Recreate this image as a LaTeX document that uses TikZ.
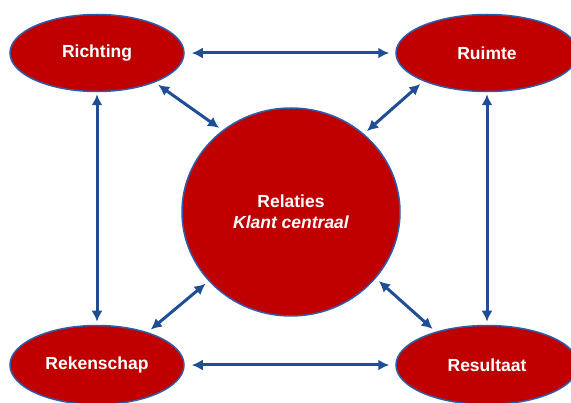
\documentclass[tikz,border=0pt]{standalone}
\usepackage{fontspec}
\setmainfont{Liberation Sans}
\usepackage{tikz}
\usetikzlibrary{shapes.geometric, arrows.meta}
\definecolor{kred}{RGB}{192,0,0}
\definecolor{kedge}{RGB}{46,93,170}
\definecolor{karrow}{RGB}{31,78,150}

\begin{document}
\begin{tikzpicture}[
  x=1pt, y=-1pt,
  font=\fontsize{17.5}{21}\selectfont\bfseries,
  pijler/.style={ellipse, draw=kedge, line width=1.5pt, fill=kred, text=white,
                 inner sep=0pt, minimum width=174pt, minimum height=77pt},
  kern/.style={ellipse, draw=kedge, line width=1.5pt, fill=kred, text=white, align=center,
               inner sep=0pt, minimum width=218pt, minimum height=208pt},
  dub/.style={{Latex[length=11pt, width=11pt]}-{Latex[length=11pt, width=11pt]},
              line width=3pt, karrow, shorten <=4pt, shorten >=4pt},
]
\useasboundingbox (0,0) rectangle (571,403);
% --- centre ---
\node[kern] (rel) at (291,212) {Relaties\\\itshape Klant centraal};
% --- corners ---
\node[pijler] (ri) at (97,53) {Richting};
\node[pijler, minimum width=182pt] (ru) at (487,53) {Ruimte};
\node[pijler, minimum height=79pt] (re) at (97,365) {Rekenschap};
\node[pijler, minimum width=182pt, minimum height=79pt] (rs) at (487,365) {Resultaat};
% --- outer ring ---
\draw[dub, shorten <=7pt, shorten >=6pt] (ri.east) -- (ru.west);
\draw[dub, shorten <=7pt, shorten >=6pt] (re.east) -- (rs.west);
\draw[dub, shorten <=2pt, shorten >=3pt] (ri.south) -- (re.north);
\draw[dub, shorten <=2pt, shorten >=3pt] (ru.south) -- (rs.north);
% --- spokes to the centre ---
\draw[dub] (ri.-27) -- (rel.130);
\draw[dub] (ru.-156) -- (rel.47);
\draw[dub] (re.33) -- (rel.220);
\draw[dub] (rs.147) -- (rel.-38);
\end{tikzpicture}
\end{document}
